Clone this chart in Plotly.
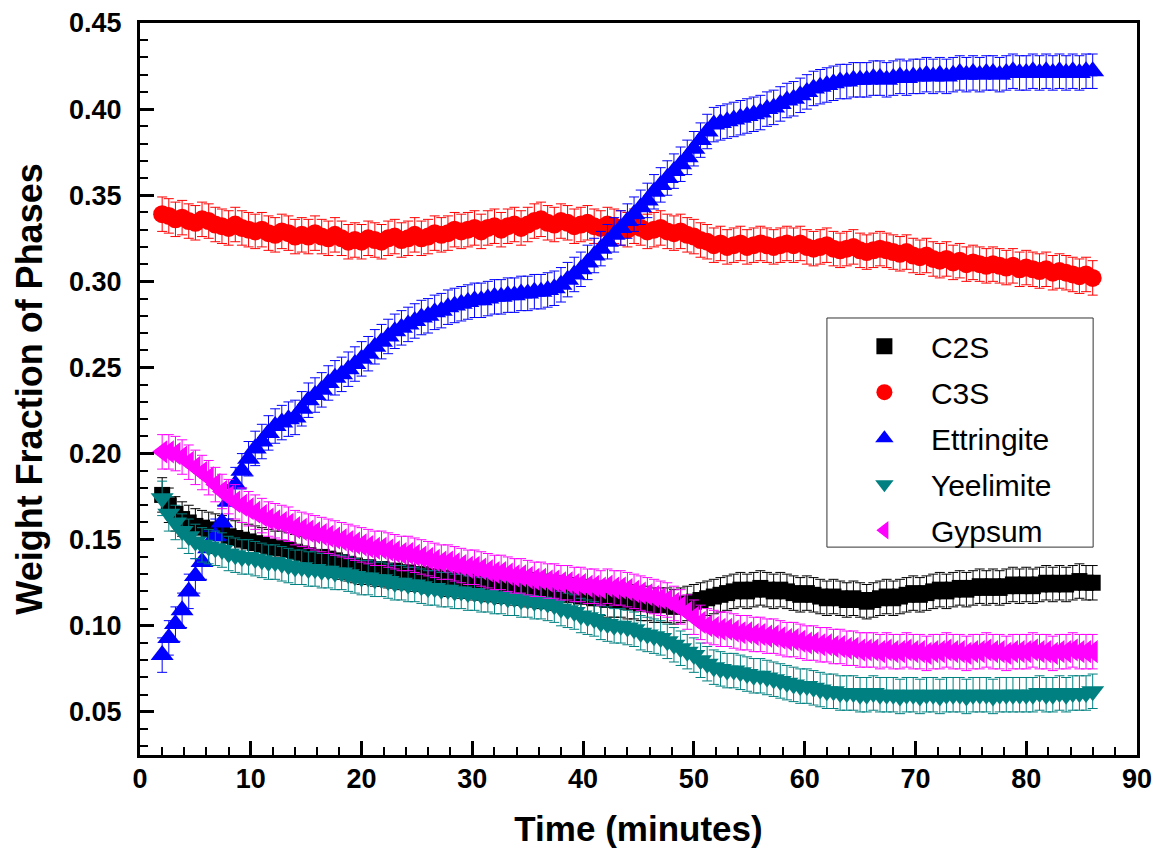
import plotly.graph_objects as go

time_min = [
    2.0, 2.6, 3.2, 3.8, 4.4, 5.0, 5.6, 6.2, 6.8, 7.4,
    8.0, 8.6, 9.2, 9.8, 10.4, 11.0, 11.6, 12.2, 12.8, 13.4,
    14.0, 14.6, 15.2, 15.8, 16.4, 17.0, 17.6, 18.2, 18.8, 19.4,
    20.0, 20.6, 21.2, 21.8, 22.4, 23.0, 23.6, 24.2, 24.8, 25.4,
    26.0, 26.6, 27.2, 27.8, 28.4, 29.0, 29.6, 30.2, 30.8, 31.4,
    32.0, 32.6, 33.2, 33.8, 34.4, 35.0, 35.6, 36.2, 36.8, 37.4,
    38.0, 38.6, 39.2, 39.8, 40.4, 41.0, 41.6, 42.2, 42.8, 43.4,
    44.0, 44.6, 45.2, 45.8, 46.4, 47.0, 47.6, 48.2, 48.8, 49.4,
    50.0, 50.6, 51.2, 51.8, 52.4, 53.0, 53.6, 54.2, 54.8, 55.4,
    56.0, 56.6, 57.2, 57.8, 58.4, 59.0, 59.6, 60.2, 60.8, 61.4,
    62.0, 62.6, 63.2, 63.8, 64.4, 65.0, 65.6, 66.2, 66.8, 67.4,
    68.0, 68.6, 69.2, 69.8, 70.4, 71.0, 71.6, 72.2, 72.8, 73.4,
    74.0, 74.6, 75.2, 75.8, 76.4, 77.0, 77.6, 78.2, 78.8, 79.4,
    80.0, 80.6, 81.2, 81.8, 82.4, 83.0, 83.6, 84.2, 84.8, 85.4,
    86.0,
]

c2s = [
    0.176, 0.170, 0.165, 0.162, 0.160, 0.158, 0.157, 0.156, 0.155, 0.154,
    0.152, 0.151, 0.150, 0.149, 0.148, 0.147, 0.146, 0.145, 0.145, 0.144,
    0.143, 0.142, 0.141, 0.140, 0.140, 0.139, 0.138, 0.137, 0.136, 0.135,
    0.134, 0.134, 0.133, 0.133, 0.132, 0.132, 0.131, 0.131, 0.130, 0.130,
    0.129, 0.129, 0.128, 0.127, 0.127, 0.126, 0.126, 0.125, 0.125, 0.124,
    0.124, 0.123, 0.123, 0.122, 0.122, 0.121, 0.121, 0.120, 0.120, 0.119,
    0.119, 0.118, 0.118, 0.117, 0.117, 0.116, 0.116, 0.115, 0.115, 0.115,
    0.114, 0.114, 0.113, 0.113, 0.112, 0.112, 0.112, 0.111, 0.112, 0.113,
    0.114, 0.115, 0.116, 0.117, 0.118, 0.119, 0.120, 0.121, 0.120, 0.121,
    0.122, 0.121, 0.120, 0.121, 0.120, 0.119, 0.118, 0.119, 0.118, 0.117,
    0.116, 0.117, 0.116, 0.115, 0.116, 0.115, 0.114, 0.115, 0.116, 0.117,
    0.116, 0.117, 0.118, 0.119, 0.118, 0.119, 0.120, 0.121, 0.120, 0.121,
    0.122, 0.121, 0.122, 0.123, 0.122, 0.123, 0.122, 0.123, 0.124, 0.123,
    0.124, 0.123, 0.124, 0.125, 0.124, 0.125, 0.124, 0.125, 0.126, 0.125,
    0.125,
]

c3s = [
    0.339, 0.338, 0.336, 0.337, 0.335, 0.334, 0.336, 0.335, 0.333, 0.332,
    0.331, 0.333, 0.331, 0.330, 0.329, 0.330, 0.328, 0.327, 0.329, 0.328,
    0.326, 0.327, 0.326, 0.328, 0.326, 0.325, 0.327, 0.325, 0.323, 0.324,
    0.323, 0.325, 0.324, 0.323, 0.325, 0.326, 0.324, 0.325, 0.327, 0.325,
    0.326, 0.328, 0.327, 0.328, 0.330, 0.329, 0.330, 0.331, 0.329, 0.331,
    0.332, 0.330, 0.332, 0.333, 0.331, 0.333, 0.335, 0.336, 0.334, 0.333,
    0.335, 0.334, 0.332, 0.333, 0.334, 0.332, 0.331, 0.333, 0.332, 0.331,
    0.330, 0.332, 0.331, 0.329, 0.330, 0.331, 0.329, 0.328, 0.329, 0.327,
    0.326, 0.324, 0.323, 0.321, 0.322, 0.320, 0.321, 0.322, 0.320, 0.321,
    0.322, 0.321, 0.320, 0.321, 0.322, 0.321, 0.322, 0.320, 0.319, 0.320,
    0.321, 0.319, 0.318, 0.319, 0.320, 0.318, 0.317, 0.318, 0.319, 0.318,
    0.317, 0.316, 0.317, 0.315, 0.314, 0.315, 0.313, 0.312, 0.313, 0.311,
    0.312, 0.310, 0.311, 0.310, 0.309, 0.310, 0.309, 0.308, 0.309, 0.307,
    0.308, 0.307, 0.306, 0.307, 0.305, 0.306, 0.305, 0.304, 0.303, 0.304,
    0.302,
]

ettringite = [
    0.083, 0.093, 0.101, 0.109, 0.120, 0.129, 0.137, 0.145, 0.152, 0.160,
    0.172, 0.182, 0.190, 0.197, 0.203, 0.207, 0.212, 0.216, 0.218, 0.220,
    0.221, 0.226, 0.231, 0.234, 0.237, 0.241, 0.244, 0.246, 0.249, 0.252,
    0.255, 0.258, 0.262, 0.265, 0.268, 0.271, 0.273, 0.275, 0.277, 0.279,
    0.280, 0.282, 0.283, 0.285, 0.286, 0.287, 0.288, 0.289, 0.289, 0.290,
    0.291, 0.291, 0.292, 0.292, 0.293, 0.293, 0.294, 0.294, 0.295, 0.296,
    0.298, 0.301, 0.304, 0.307, 0.311, 0.315, 0.319, 0.323, 0.327, 0.331,
    0.335, 0.339, 0.343, 0.347, 0.352, 0.356, 0.360, 0.364, 0.368, 0.372,
    0.377, 0.382, 0.387, 0.391, 0.392, 0.393, 0.394, 0.395, 0.396, 0.397,
    0.398, 0.400, 0.401, 0.403, 0.405, 0.406, 0.408, 0.410, 0.412, 0.413,
    0.414, 0.415, 0.416, 0.416, 0.417, 0.417, 0.417, 0.418, 0.418, 0.417,
    0.418, 0.419, 0.418, 0.419, 0.419, 0.420, 0.419, 0.420, 0.419, 0.420,
    0.421, 0.420, 0.421, 0.420, 0.421, 0.421, 0.420, 0.421, 0.422, 0.421,
    0.421, 0.422, 0.421, 0.422, 0.421, 0.422, 0.421, 0.422, 0.421, 0.422,
    0.422,
]

yeelimite = [
    0.174, 0.165, 0.160, 0.155, 0.152, 0.149, 0.147, 0.146, 0.145, 0.144,
    0.142, 0.141, 0.140, 0.140, 0.139, 0.138, 0.137, 0.137, 0.136, 0.135,
    0.134, 0.134, 0.133, 0.133, 0.132, 0.132, 0.131, 0.131, 0.130, 0.129,
    0.128, 0.128, 0.127, 0.127, 0.126, 0.125, 0.125, 0.124, 0.124, 0.123,
    0.122, 0.122, 0.121, 0.121, 0.120, 0.120, 0.119, 0.119, 0.118, 0.118,
    0.117, 0.117, 0.116, 0.116, 0.115, 0.115, 0.114, 0.114, 0.113, 0.112,
    0.110, 0.109, 0.108, 0.106, 0.105, 0.104, 0.102, 0.101, 0.100, 0.100,
    0.099, 0.098, 0.096, 0.095, 0.094, 0.093, 0.091, 0.089, 0.087, 0.085,
    0.083, 0.080, 0.078, 0.076, 0.075, 0.074, 0.074, 0.073, 0.072, 0.071,
    0.071, 0.070, 0.069, 0.068, 0.067, 0.066, 0.065, 0.065, 0.064, 0.063,
    0.062, 0.062, 0.061, 0.061, 0.061, 0.060, 0.060, 0.061, 0.060, 0.060,
    0.060, 0.059, 0.060, 0.060, 0.059, 0.060, 0.060, 0.059, 0.060, 0.060,
    0.060, 0.059, 0.060, 0.060, 0.060, 0.059, 0.060, 0.060, 0.060, 0.060,
    0.060, 0.060, 0.061, 0.060, 0.060, 0.061, 0.060, 0.061, 0.061, 0.061,
    0.062,
]

gypsum = [
    0.201, 0.201, 0.200, 0.198, 0.195, 0.192, 0.189, 0.186, 0.182, 0.178,
    0.175, 0.172, 0.170, 0.168, 0.166, 0.164, 0.162, 0.161, 0.160, 0.159,
    0.157, 0.156, 0.155, 0.154, 0.153, 0.152, 0.151, 0.150, 0.149, 0.148,
    0.147, 0.146, 0.145, 0.145, 0.144, 0.143, 0.142, 0.142, 0.141, 0.140,
    0.139, 0.138, 0.137, 0.137, 0.136, 0.135, 0.134, 0.134, 0.133, 0.132,
    0.131, 0.131, 0.130, 0.129, 0.129, 0.128, 0.127, 0.127, 0.126, 0.126,
    0.125, 0.125, 0.124, 0.124, 0.123, 0.123, 0.122, 0.123, 0.122, 0.122,
    0.121, 0.120, 0.119, 0.118, 0.117, 0.116, 0.115, 0.113, 0.111, 0.108,
    0.105, 0.102, 0.100, 0.099, 0.098, 0.098, 0.097, 0.096, 0.096, 0.095,
    0.095, 0.094, 0.094, 0.093, 0.092, 0.092, 0.091, 0.090, 0.090, 0.089,
    0.089, 0.088, 0.088, 0.087, 0.087, 0.086, 0.086, 0.086, 0.085, 0.086,
    0.085, 0.085, 0.086, 0.085, 0.085, 0.084, 0.085, 0.085, 0.086, 0.085,
    0.085, 0.084, 0.085, 0.085, 0.086, 0.085, 0.085, 0.084, 0.085, 0.085,
    0.085, 0.086, 0.085, 0.085, 0.084, 0.085, 0.085, 0.086, 0.085, 0.085,
    0.085,
]

series_names = ["C2S", "C3S", "Ettringite", "Yeelimite", "Gypsum"]
series_values = [c2s, c3s, ettringite, yeelimite, gypsum]
series_errors = [0.010, 0.010, 0.010, 0.010, 0.010]
colors = ["#000000", "#FF0000", "#0000FF", "#008080", "#FF00FF"]
symbols = ["square", "circle", "triangle-up", "triangle-down", "triangle-left"]
sizes = [16, 18, 20, 20, 20]

FONT = "Liberation Sans, Arial, sans-serif"

fig = go.Figure()
for name, vals, err, col, sym, sz in zip(series_names, series_values, series_errors,
                                          colors, symbols, sizes):
    fig.add_trace(go.Scatter(
        x=time_min, y=vals, mode="markers", name=name,
        legendgroup=name,
        marker=dict(symbol=sym, size=sz, color=col, line=dict(width=0)),
        error_y=dict(type="constant", value=err, color=col, thickness=1, width=5),
    ))

axis_common = dict(
    showline=True, linewidth=3, linecolor="black", mirror=True,
    ticks="inside", ticklen=14, tickwidth=2.5, tickcolor="black",
    showgrid=False, zeroline=False, automargin=False,
    tickfont=dict(family=FONT, size=27, color="black", weight="bold"),
)

fig.update_xaxes(
    range=[0, 90], tick0=0, dtick=10,
    minor=dict(ticks="inside", ticklen=8, tickwidth=2, tickcolor="black", dtick=2),
    ticklabelstandoff=-2,
    title=dict(text="Time (minutes)", standoff=24,
               font=dict(family=FONT, size=35, color="black", weight="bold")),
    **axis_common,
)
fig.update_yaxes(
    range=[0.025, 0.45], tick0=0, dtick=0.05, tickformat=".2f",
    minor=dict(ticks="inside", ticklen=8, tickwidth=2, tickcolor="black", dtick=0.01),
    ticklabelstandoff=10,
    title=dict(text="Weight Fraction of Phases", standoff=16,
               font=dict(family=FONT, size=36, color="black", weight="bold")),
    **axis_common,
)

# legend frame (paper coordinates of the plot area)
fig.add_shape(type="rect", xref="paper", yref="paper",
              x0=0.689, x1=0.956, y0=0.284, y1=0.597,
              line=dict(color="#333333", width=1), fillcolor="white", layer="below")

fig.update_layout(
    width=1156, height=858,
    margin=dict(l=140, r=19, t=23, b=103),
    paper_bgcolor="white", plot_bgcolor="white",
    showlegend=True,
    legend=dict(
        x=0.700, y=0.594, xanchor="left", yanchor="top",
        bgcolor="rgba(0,0,0,0)", borderwidth=0,
        font=dict(family=FONT, size=30, color="black"),
        tracegroupgap=4, itemwidth=83,
    ),
)

fig.write_html("out.html",
               config={"displayModeBar": False},
               post_script="document.body.style.margin='0';document.body.style.overflow='hidden';")
